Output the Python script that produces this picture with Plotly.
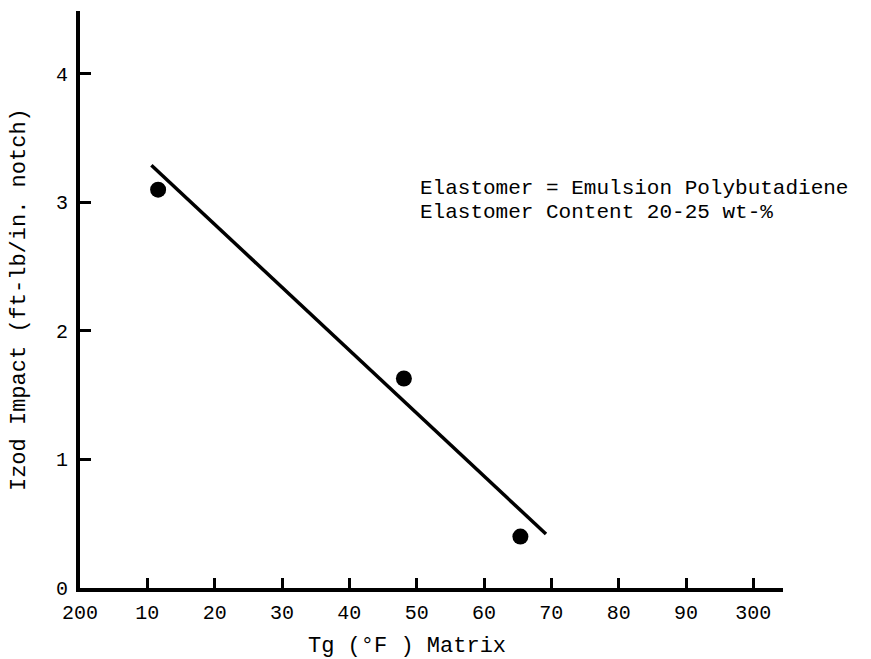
import plotly.graph_objects as go

# Data
tg_matrix = [211.6, 248.1, 265.4]          # Tg (°F) of matrix
izod_impact = [3.10, 1.63, 0.40]           # ft-lb/in. notch
fit_x = [210.6, 269.2]                     # regression line end points
fit_y = [3.29, 0.42]

x_tickvals = [200, 210, 220, 230, 240, 250, 260, 270, 280, 290, 300]
x_ticktext = ["200", "10", "20", "30", "40", "50", "60", "70", "80", "90", "300"]
y_tickvals = [0, 1, 2, 3, 4]
y_ticktext = ["0", "1", "2", "3", "4"]

note_lines = ["Elastomer = Emulsion Polybutadiene", "Elastomer Content 20-25 wt-%"]

FONT = "Liberation Mono, Courier New, monospace"

fig = go.Figure()
fig.add_trace(go.Scatter(x=fit_x, y=fit_y, mode="lines",
                         line=dict(color="black", width=3.5), showlegend=False,
                         hoverinfo="skip"))
fig.add_trace(go.Scatter(x=tg_matrix, y=izod_impact, mode="markers",
                         marker=dict(color="black", size=16), showlegend=False))

fig.update_layout(
    width=871, height=659,
    margin=dict(l=80, r=88, t=11, b=71),
    paper_bgcolor="white", plot_bgcolor="white",
    font=dict(family=FONT, color="black", size=20),
    xaxis=dict(range=[200, 304.4], tickvals=x_tickvals, ticktext=x_ticktext,
               showline=True, linecolor="black", linewidth=4,
               ticks="inside", ticklen=10, tickwidth=3, tickcolor="black",
               showgrid=False, zeroline=False, ticklabelstandoff=3,
               tickfont=dict(family=FONT, size=20)),
    yaxis=dict(range=[0, 4.49], tickvals=y_tickvals, ticktext=y_ticktext,
               showline=True, linecolor="black", linewidth=4,
               ticks="inside", ticklen=11, tickwidth=3, tickcolor="black",
               showgrid=False, zeroline=False, ticklabelstandoff=4,
               tickfont=dict(family=FONT, size=20)),
)

fig.add_annotation(x=250.2, y=3.11, xref="x", yref="y", text=note_lines[0],
                   showarrow=False, xanchor="left", yanchor="middle",
                   font=dict(family=FONT, size=21))
fig.add_annotation(x=250.2, y=2.92, xref="x", yref="y", text=note_lines[1],
                   showarrow=False, xanchor="left", yanchor="middle",
                   font=dict(family=FONT, size=21))
fig.add_annotation(x=-0.086, y=0.5, xref="paper", yref="paper",
                   text="Izod Impact (ft-lb/in. notch)", textangle=-90,
                   showarrow=False, xanchor="center", yanchor="middle",
                   font=dict(family=FONT, size=22))
fig.add_annotation(x=248.5, y=-0.101, xref="x", yref="paper",
                   text="Tg (°F ) Matrix",
                   showarrow=False, xanchor="center", yanchor="middle",
                   font=dict(family=FONT, size=22))

fig.write_html("out.html")
